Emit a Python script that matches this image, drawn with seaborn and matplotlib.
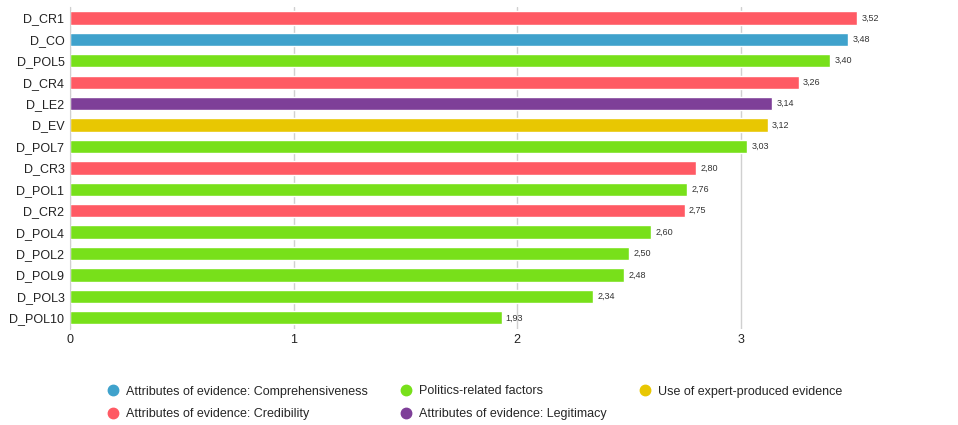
import pandas as pd
import seaborn as sns
import matplotlib.pyplot as plt

# data
items = ['D_CR1', 'D_CO', 'D_POL5', 'D_CR4', 'D_LE2', 'D_EV', 'D_POL7', 'D_CR3',
         'D_POL1', 'D_CR2', 'D_POL4', 'D_POL2', 'D_POL9', 'D_POL3', 'D_POL10']
scores = [3.52, 3.48, 3.40, 3.26, 3.14, 3.12, 3.03, 2.80,
          2.76, 2.75, 2.60, 2.50, 2.48, 2.34, 1.93]
groups = ['Attributes of evidence: Credibility',
          'Attributes of evidence: Comprehensiveness',
          'Politics-related factors',
          'Attributes of evidence: Credibility',
          'Attributes of evidence: Legitimacy',
          'Use of expert-produced evidence',
          'Politics-related factors',
          'Attributes of evidence: Credibility',
          'Politics-related factors',
          'Attributes of evidence: Credibility',
          'Politics-related factors',
          'Politics-related factors',
          'Politics-related factors',
          'Politics-related factors',
          'Politics-related factors']

legend_order = ['Attributes of evidence: Comprehensiveness',
                'Attributes of evidence: Credibility',
                'Politics-related factors',
                'Attributes of evidence: Legitimacy',
                'Use of expert-produced evidence']
palette = {
    'Attributes of evidence: Comprehensiveness': '#3FA2CC',
    'Attributes of evidence: Credibility': '#FF5A64',
    'Politics-related factors': '#78E01A',
    'Attributes of evidence: Legitimacy': '#7E3F98',
    'Use of expert-produced evidence': '#E8C702',
}

df = pd.DataFrame({'item': items, 'score': scores, 'group': groups})

sns.set_style('white')
plt.rcParams['font.family'] = ['Liberation Sans', 'DejaVu Sans']

fig = plt.figure(figsize=(9.58, 4.25), dpi=100)
ax = fig.add_axes([0.073, 0.227, 0.915, 0.756])

sns.barplot(data=df, x='score', y='item', hue='group', hue_order=legend_order,
            palette=palette, dodge=False, width=0.62, saturation=1, order=items,
            ax=ax, legend=False)

# value labels with decimal comma
for container in ax.containers:
    labels = [f'{v:.2f}'.replace('.', ',') if v == v else '' for v in container.datavalues]
    ax.bar_label(container, labels=labels, padding=3, fontsize=6.5, color='#333333')

ax.set_xlim(0, 3.92)
ax.set_xticks([0, 1, 2, 3])
ax.set_xlabel('')
ax.set_ylabel('')
ax.grid(axis='x', color='#d0d0d0', linewidth=1)
ax.set_axisbelow(True)
for side in ['top', 'right', 'bottom']:
    ax.spines[side].set_visible(False)
ax.spines['left'].set_color('#d0d0d0')
ax.tick_params(axis='both', length=0, labelsize=9, colors='#222222', pad=4)

marker_handles = [plt.Line2D([], [], marker='o', linestyle='', markersize=7.5,
                             markerfacecolor=palette[g], markeredgecolor=palette[g])
                  for g in legend_order]
fig.legend(marker_handles, legend_order, loc='lower left', ncol=3,
           bbox_to_anchor=(0.1, -0.015), frameon=False, fontsize=9,
           columnspacing=2.6, handlelength=1.0, handletextpad=0.5, labelspacing=0.85)

fig.savefig('out.png', dpi=100)
